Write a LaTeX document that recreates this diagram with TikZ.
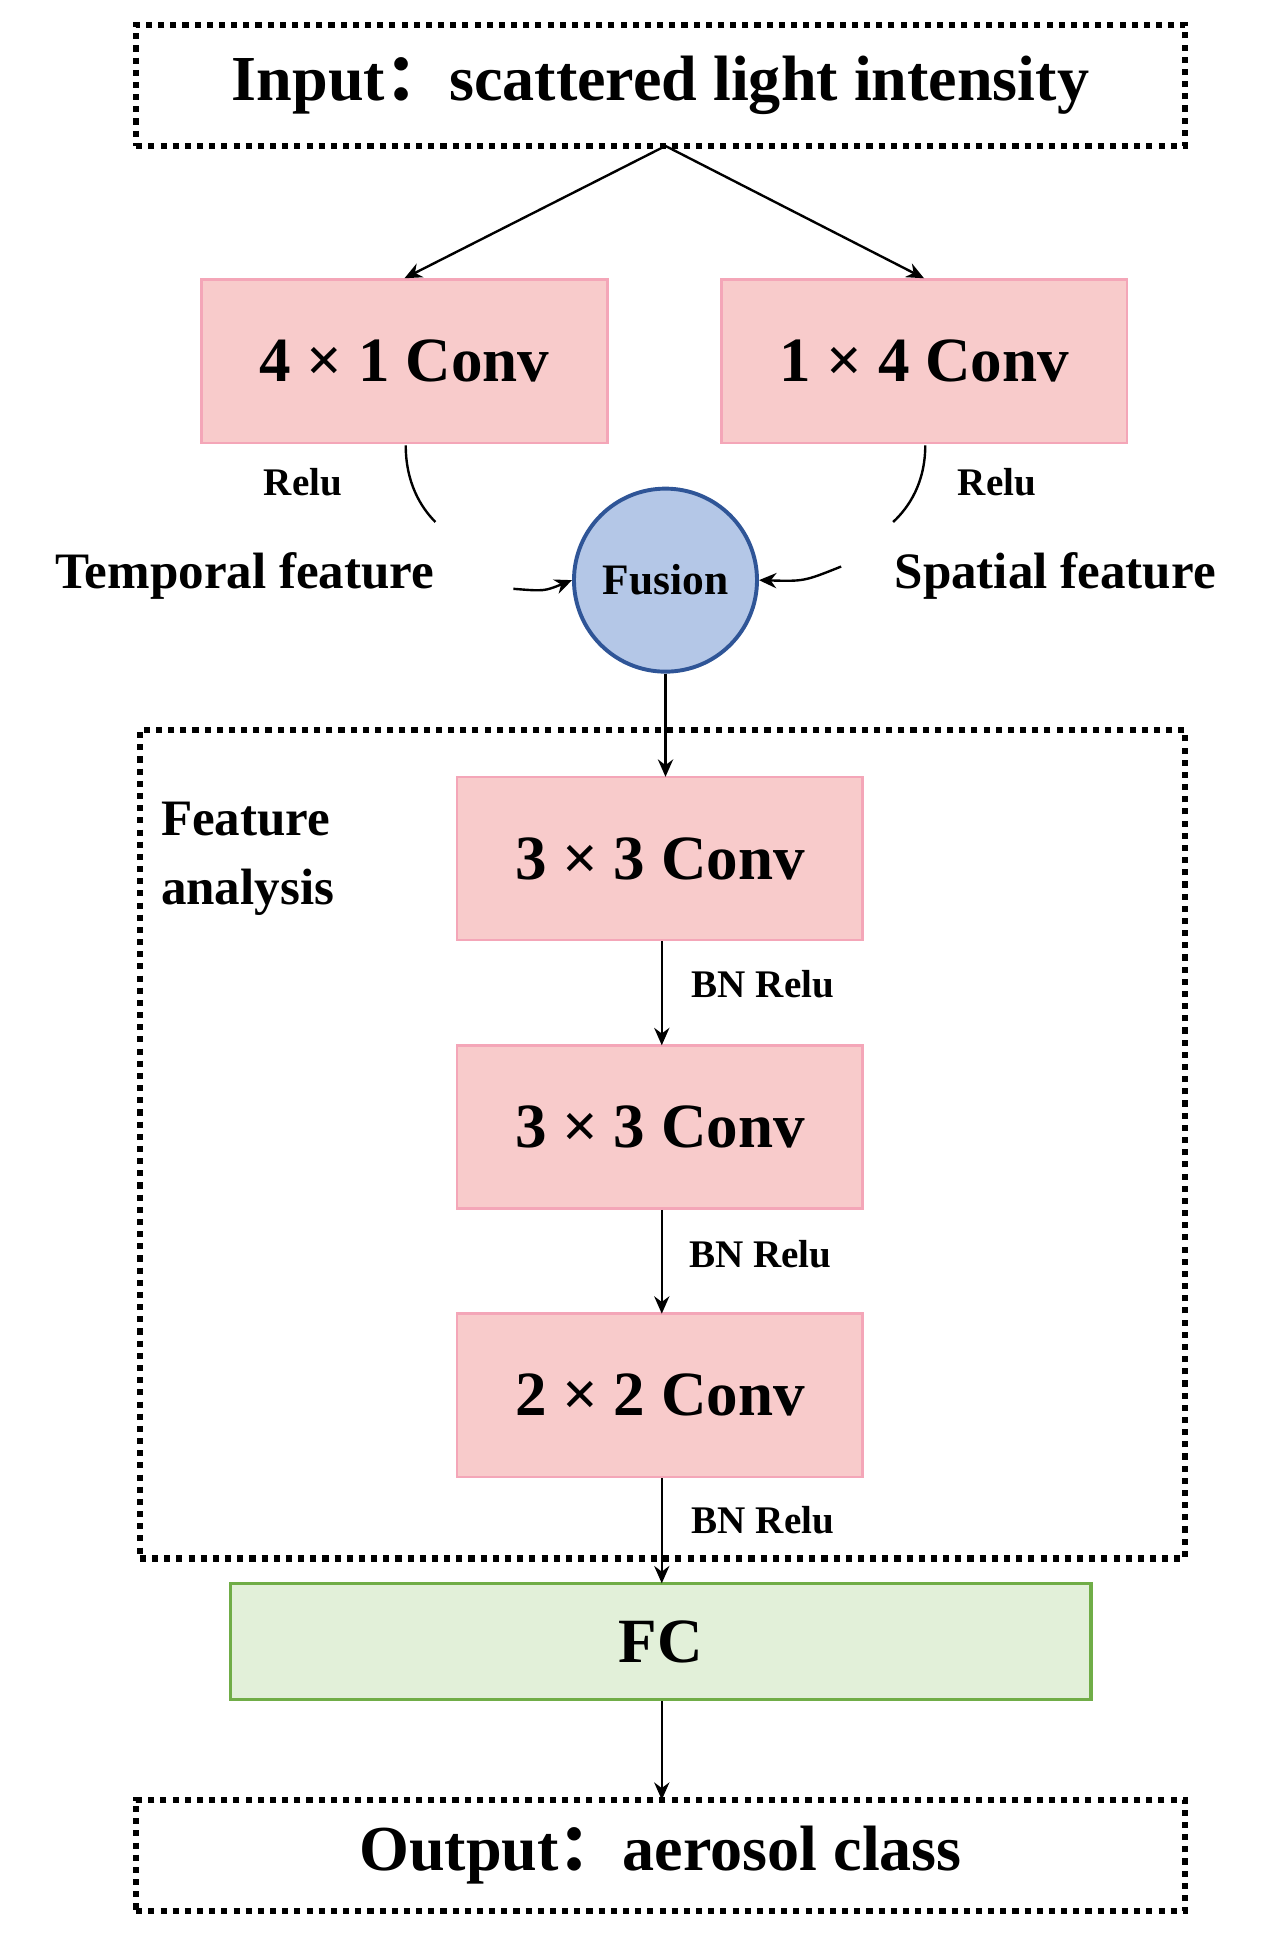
\documentclass[tikz,border=0pt]{standalone}
\usepackage{fontspec}
\setmainfont{Liberation Serif}
\newfontfamily\cjk{Noto Sans CJK SC}
\usetikzlibrary{arrows.meta}
\definecolor{pinkfill}{HTML}{F8CBCB}
\definecolor{pinkline}{HTML}{F4A6B8}
\definecolor{fusfill}{HTML}{B4C7E7}
\definecolor{fusline}{HTML}{2F5597}
\definecolor{fcfill}{HTML}{E2F0D9}
\definecolor{fcline}{HTML}{70AD47}
\begin{document}
\begin{tikzpicture}[x=0.02cm,y=-0.02cm,
  dotbox/.style={draw,line width=2.8pt,dash pattern=on 2.8pt off 2.8pt},
  conv/.style={draw=pinkline,line width=1.2pt,fill=pinkfill,minimum width=6.56cm,minimum height=2.64cm,font=\fontsize{29}{32}\selectfont\bfseries,inner sep=0pt},
  arr/.style={-{Stealth[length=8pt,width=7pt]},line width=1.1pt},
  lbl/.style={font=\fontsize{18}{20}\selectfont\bfseries},
  big/.style={font=\fontsize{23.5}{32}\selectfont\bfseries}]
\useasboundingbox (0,0) rectangle (1024,1574);
\node[dotbox,minimum width=16.96cm,minimum height=1.96cm,font=\fontsize{29.5}{32}\selectfont\bfseries] (in) at (534,69) {Input{\cjk ：}scattered light intensity};
\node[conv] (c41) at (327,292) {4 × 1 Conv};
\node[conv] (c14) at (747,292) {1 × 4 Conv};
\coordinate (inb) at (538,118);
\draw[arr] (inb) -- (c41.north);
\draw[arr] (inb) -- (c14.north);
\node[lbl] (r1) at (245,390) {Relu};
\node[lbl] (r2) at (806,390) {Relu};
\draw[line width=1.1pt] (328,360) .. controls (328,390) and (340,410) .. (352,422);
\draw[line width=1.1pt] (748,360) .. controls (748,390) and (735,410) .. (722,422);
\node[big] (tf) at (198,466) {Temporal feature};
\node[big] (sf) at (853,466) {Spatial feature};
\node[circle,draw=fusline,line width=1.8pt,fill=fusfill,minimum size=2.96cm,font=\fontsize{20}{22}\selectfont\bfseries,inner sep=0pt] (fu) at (538,469) {Fusion};
\coordinate (ta) at (415,476);
\coordinate (sa) at (680,458);
\draw[arr] (ta) .. controls (440,478) .. (fu.west);
\draw[arr] (sa) .. controls (650,470) .. (fu.east);
\node[dotbox,minimum width=16.9cm,minimum height=13.4cm] (fa) at (535.5,925) {};
\node[big,align=left,anchor=north west] (fat) at (124,642) {Feature\\analysis};
\node[conv] (a1) at (533.5,694) {3 × 3 Conv};
\node[conv] (a2) at (533.5,911) {3 × 3 Conv};
\node[conv] (a3) at (533.5,1128) {2 × 2 Conv};
\draw[arr] (fu.south) -- (538,628);
\draw[arr] (a1.south -| 535,0) -- (535,845);
\draw[arr] (a2.south -| 535,0) -- (535,1062);
\node[lbl,anchor=west] at (553,796) {BN Relu};
\node[lbl,anchor=west] at (551,1014) {BN Relu};
\node[lbl,anchor=west] at (553,1229) {BN Relu};
\node[draw=fcline,line width=1.5pt,fill=fcfill,minimum width=13.92cm,minimum height=1.88cm,font=\fontsize{29}{32}\selectfont\bfseries] (fc) at (534,1327) {FC};
\draw[arr] (535,1195) -- (535,1280);
\node[dotbox,minimum width=16.96cm,minimum height=1.8cm,font=\fontsize{29.5}{32}\selectfont\bfseries] (out) at (534,1500) {Output{\cjk ：}aerosol class};
\draw[arr] (fc.south -| 535,0) -- (535,1455);
\end{tikzpicture}
\end{document}
